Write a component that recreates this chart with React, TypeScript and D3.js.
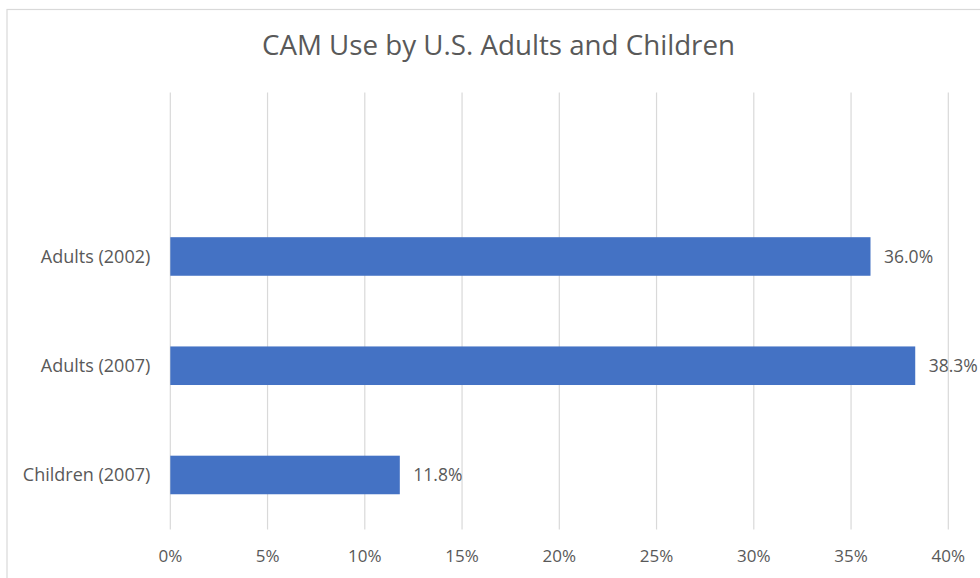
import React from "react";
import * as d3 from "d3";

const title = "CAM Use by U.S. Adults and Children";
const categories = ["Adults (2002)", "Adults (2007)", "Children (2007)"];
const values = [36.0, 38.3, 11.8];
const xTicks = [0, 5, 10, 15, 20, 25, 30, 35, 40];

const W = 980;
const H = 578;
const FONT = "'Open Sans', 'Noto Sans', sans-serif";
const TEXT = "#595959";
const GRID = "#d9d9d9";
const BAR = "#4472c4";

export default function App() {
  const x = d3.scaleLinear().domain([0, 40]).range([170.3, 948.3]);
  // Excel plot area keeps an empty top slot
  const y = d3
    .scaleBand<string>()
    .domain(["", ...categories])
    .range([92.6, 529.6])
    .paddingInner(0.647)
    .paddingOuter(0.3235);
  const plotTop = 92.6;
  const plotBottom = 529.6;

  return (
    <svg
      width={W}
      height={H}
      style={{ position: "absolute", left: 0, top: 0, background: "#fff" }}
      fontFamily={FONT}
    >
      <rect x={7} y={9.5} width={W + 20} height={H + 20} fill="#fff" stroke={GRID} strokeWidth={1.2} />
      <text
        x={262}
        y={54.5}
        fontSize={26.5}
        fill={TEXT}
        textLength={473}
        lengthAdjust="spacingAndGlyphs"
      >
        {title}
      </text>
      {xTicks.map((t) => (
        <g key={t}>
          <line x1={x(t)} x2={x(t)} y1={plotTop} y2={plotBottom} stroke={GRID} strokeWidth={1.2} />
          <text x={x(t)} y={562} textAnchor="middle" fontSize={17} fill={TEXT}>
            {t}%
          </text>
        </g>
      ))}
      {categories.map((c, i) => {
        const yy = y(c)!;
        const bw = y.bandwidth();
        return (
          <g key={c}>
            <rect x={x(0)} y={yy} width={x(values[i]) - x(0)} height={bw} fill={BAR} />
            <text
              x={x(0) - 20}
              y={yy + bw / 2}
              dy="0.35em"
              textAnchor="end"
              fontSize={18}
              fill={TEXT}
            >
              {c}
            </text>
            <text x={x(values[i]) + 13.5} y={yy + bw / 2} dy="0.35em" fontSize={17.5} fill={TEXT}>
              {values[i].toFixed(1)}%
            </text>
          </g>
        );
      })}
    </svg>
  );
}
